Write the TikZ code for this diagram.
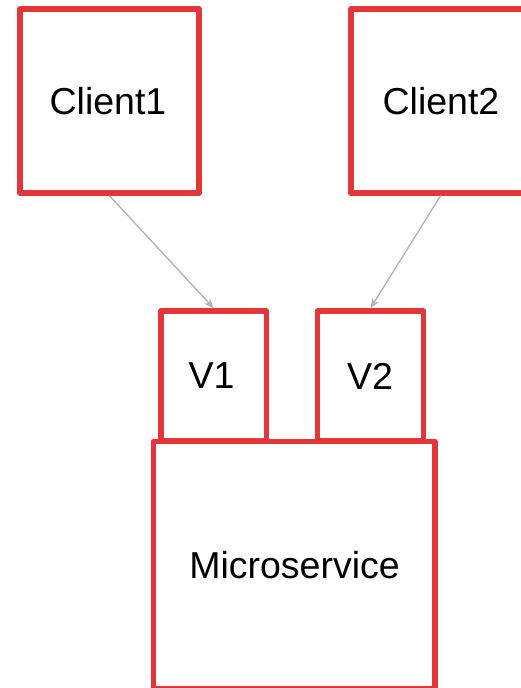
\documentclass[tikz,border=0pt]{standalone}
\usepackage{fontspec}
\setmainfont{Liberation Sans}
\usetikzlibrary{arrows.meta}
\definecolor{boxred}{RGB}{226,54,58}
\definecolor{arrowgray}{RGB}{180,180,180}
\tikzset{
  redbox/.style={draw=boxred, line width=5.5pt, line join=round, fill=white, inner sep=0pt},
  lbl/.style={font=\fontsize{37.5}{44}\selectfont, text=black, inner sep=0pt},
  conn/.style={draw=arrowgray, line width=1.4pt, -{Stealth[length=10pt,width=8pt]}}
}
\begin{document}
\begin{tikzpicture}[x=1pt,y=-1pt]
\useasboundingbox (0,0) rectangle (520,688);
\node[redbox, minimum width=179pt, minimum height=184pt] (c1) at (109.5,101) {};
\node[lbl] (t1) at (108,101) {Client1};
\node[redbox, minimum width=179pt, minimum height=184pt] (c2) at (440.5,101) {};
\node[lbl] (t2) at (441,101) {Client2};
\node[redbox, minimum width=281.5pt, minimum height=247pt] (ms) at (294.25,565) {};
\node[lbl] (tm) at (294.5,565) {Microservice};
\node[redbox, minimum width=105.5pt, minimum height=130pt] (v1) at (213.75,376) {};
\node[lbl] (tv1) at (211.5,376) {V1};
\node[redbox, minimum width=106pt, minimum height=130pt] (v2) at (370.5,376) {};
\node[lbl] (tv2) at (370,376) {V2};
\draw[conn] (c1.south) -- (v1.north);
\draw[conn] (c2.south) -- (v2.north);
\end{tikzpicture}
\end{document}
